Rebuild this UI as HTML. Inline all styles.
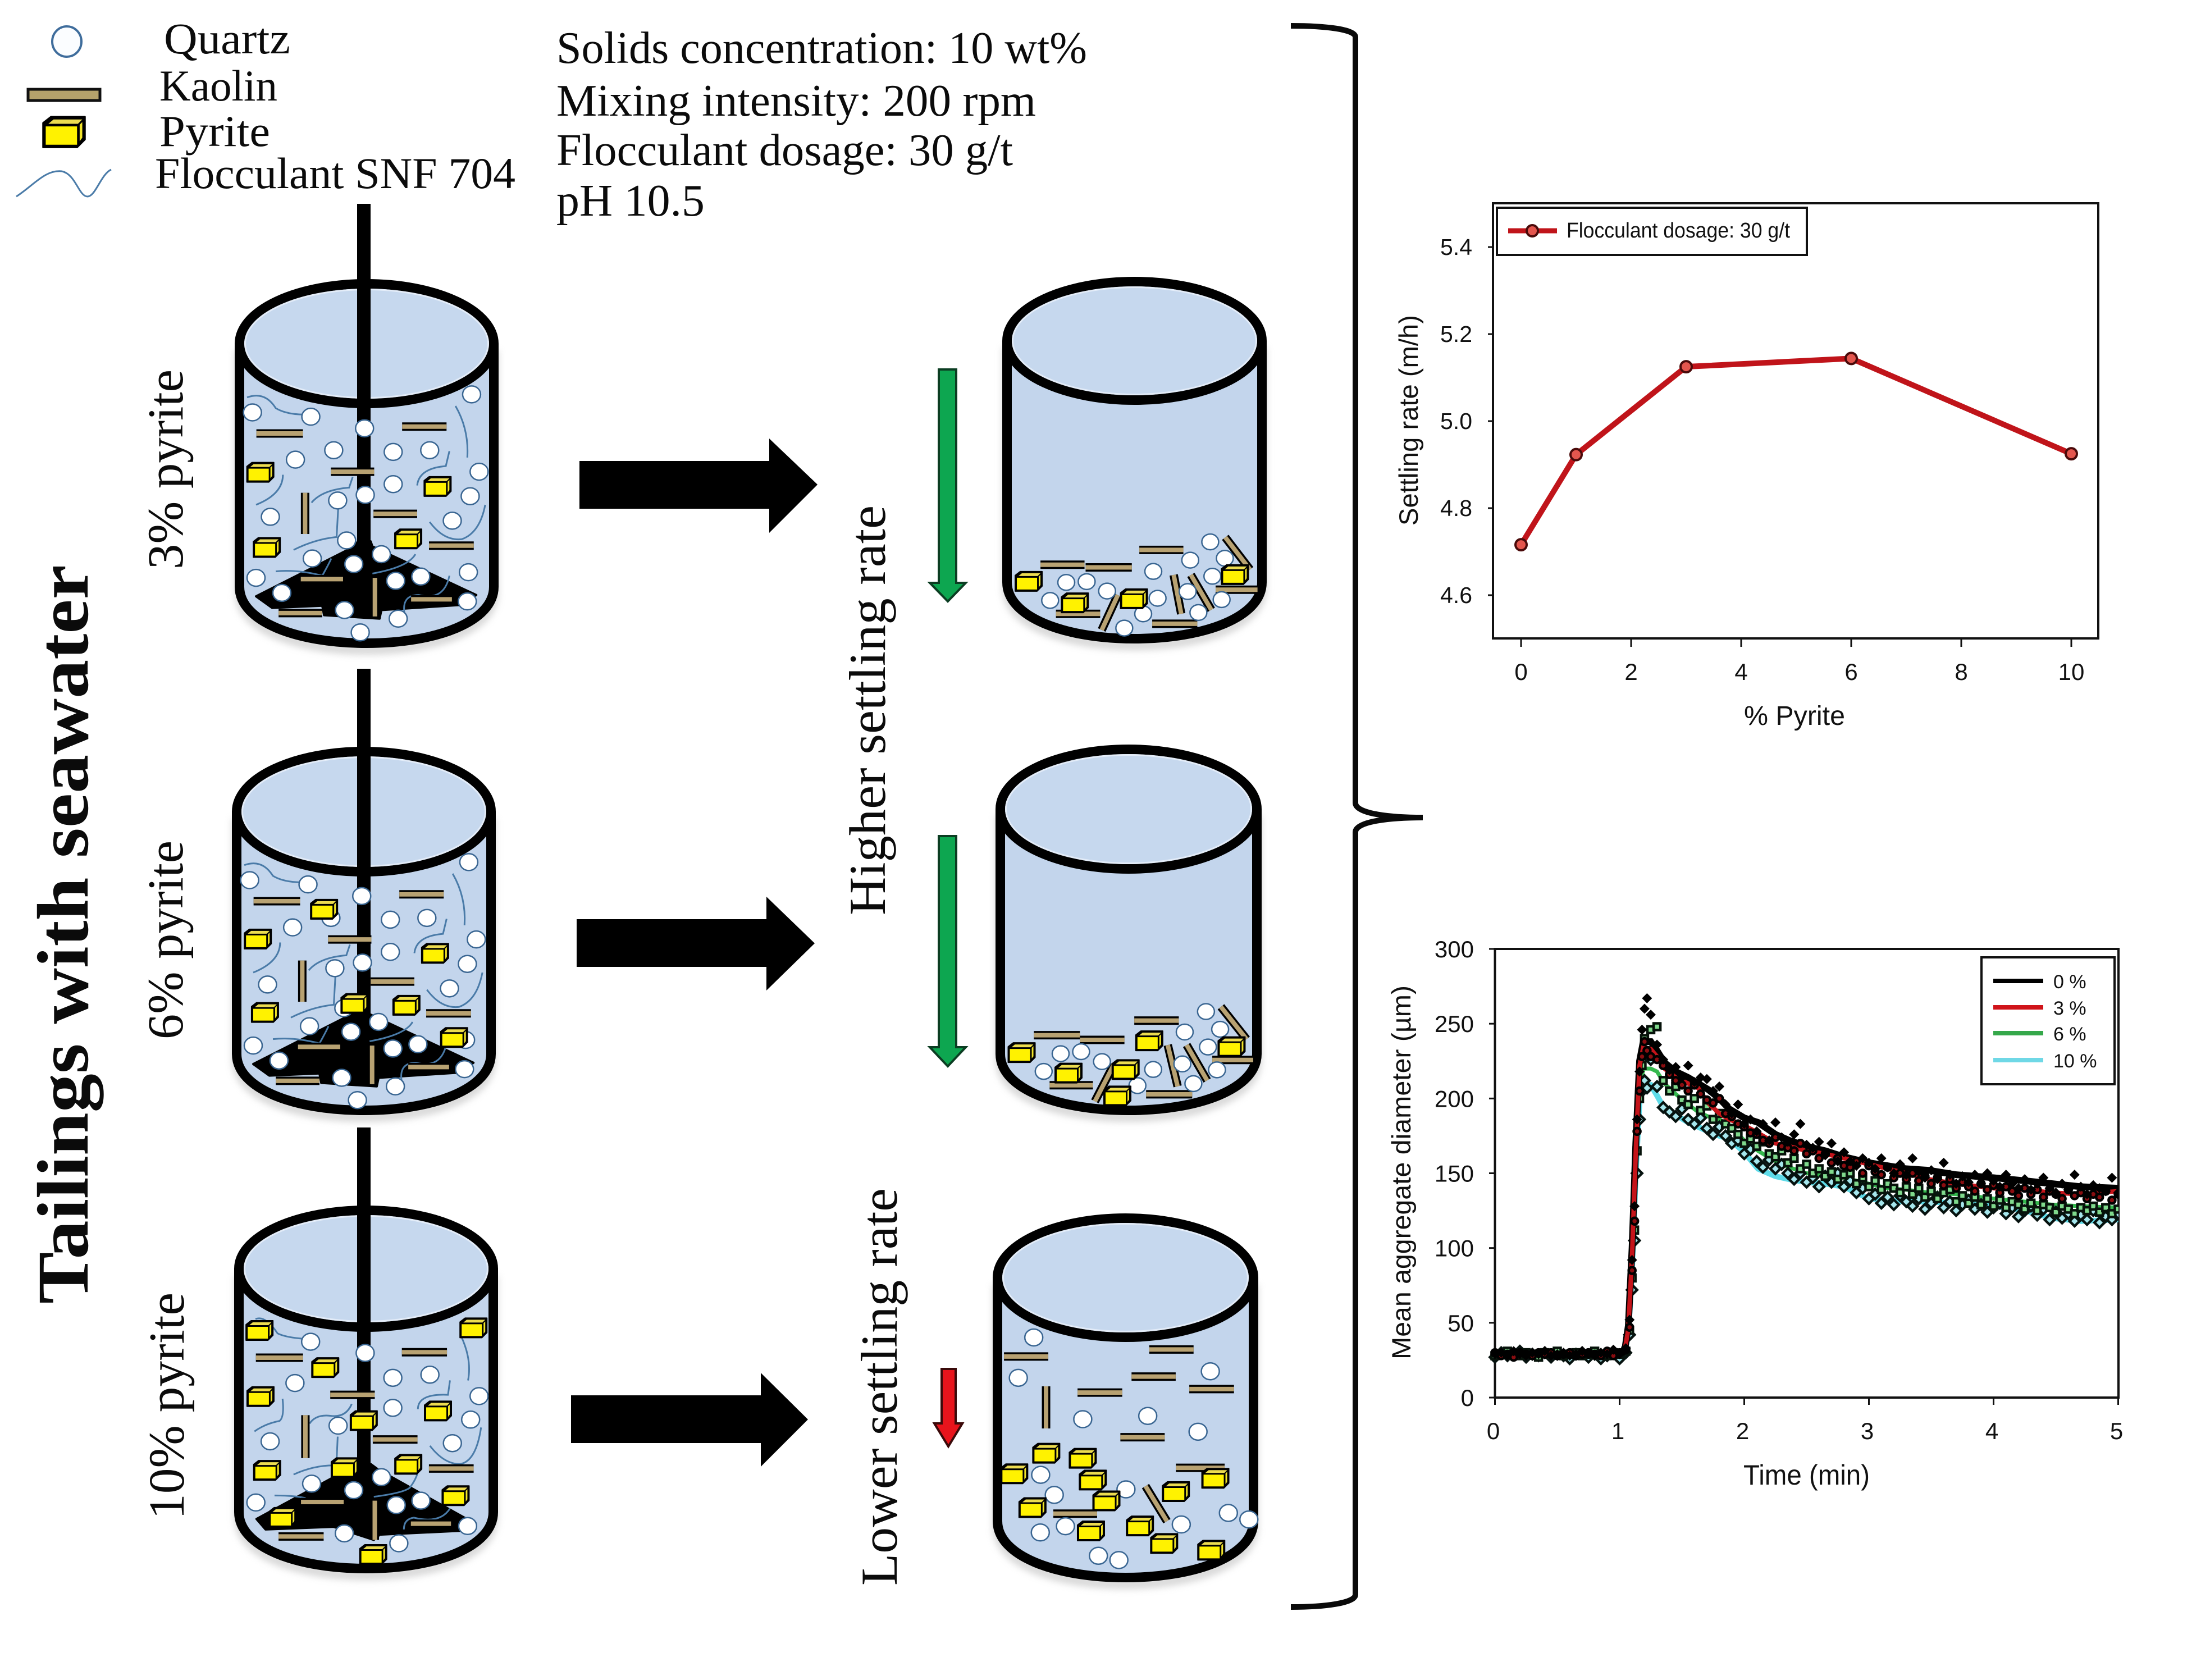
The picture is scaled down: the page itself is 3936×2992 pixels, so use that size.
<!DOCTYPE html>
<html lang="en">
<head>
<meta charset="utf-8">
<title>Tailings with seawater: pyrite settling schematic</title>
<style>
html,body{margin:0;padding:0;background:#fff;}
svg{display:block;}
.serif{font-family:"Liberation Serif",serif;fill:#0b0b0b;}
.sans{font-family:"Liberation Sans",sans-serif;fill:#111;}
</style>
</head>
<body>
<svg id="root" xmlns="http://www.w3.org/2000/svg" width="3936" height="2992" viewBox="0 0 3936 2992">
<defs><filter id="soft" x="-10%" y="-10%" width="120%" height="120%"><feGaussianBlur stdDeviation="6"/></filter></defs>
<rect x="0" y="0" width="3936" height="2992" fill="#fff"/>

<g>
<ellipse cx="119" cy="74" rx="26" ry="27" fill="#fbfdff" stroke="#3f6d9c" stroke-width="4"/>
<rect x="50" y="159" width="128" height="20" fill="#b5a26b" stroke="#111" stroke-width="5"/>
<g id="legendPyrite"></g>
<path d="M29 350C60 330 80 302 110 305C135 310 140 350 156 350C170 350 180 310 198 302" fill="none" stroke="#4a7ba8" stroke-width="3"/>
<text class="serif" x="292" y="95" font-size="78" textLength="225" lengthAdjust="spacingAndGlyphs">Quartz</text>
<text class="serif" x="284" y="179" font-size="78" textLength="210" lengthAdjust="spacingAndGlyphs">Kaolin</text>
<text class="serif" x="284" y="260" font-size="78" textLength="197" lengthAdjust="spacingAndGlyphs">Pyrite</text>
<text class="serif" x="276" y="335" font-size="78" textLength="642" lengthAdjust="spacingAndGlyphs">Flocculant SNF 704</text>
</g>

<g>
<text class="serif" x="991" y="112" font-size="80" textLength="945" lengthAdjust="spacingAndGlyphs">Solids concentration: 10 wt%</text>
<text class="serif" x="991" y="206" font-size="80" textLength="854" lengthAdjust="spacingAndGlyphs">Mixing intensity: 200 rpm</text>
<text class="serif" x="991" y="294" font-size="80" textLength="813" lengthAdjust="spacingAndGlyphs">Flocculant dosage: 30 g/t</text>
<text class="serif" x="991" y="384" font-size="80" textLength="264" lengthAdjust="spacingAndGlyphs">pH 10.5</text>
</g>

<text class="serif" font-weight="bold" font-size="130" transform="translate(156,2322) rotate(-90)" textLength="1316" lengthAdjust="spacingAndGlyphs">Tailings with seawater</text>
<text class="serif" font-size="90" transform="translate(325,1014) rotate(-90)" textLength="356" lengthAdjust="spacingAndGlyphs">3% pyrite</text>
<text class="serif" font-size="90" transform="translate(325,1851) rotate(-90)" textLength="354" lengthAdjust="spacingAndGlyphs">6% pyrite</text>
<text class="serif" font-size="90" transform="translate(327,2706) rotate(-90)" textLength="404" lengthAdjust="spacingAndGlyphs">10% pyrite</text>
<text class="serif" font-size="92" transform="translate(1576,1630) rotate(-90)" textLength="730" lengthAdjust="spacingAndGlyphs">Higher settling rate</text>
<text class="serif" font-size="92" transform="translate(1597,2824) rotate(-90)" textLength="708" lengthAdjust="spacingAndGlyphs">Lower settling rate</text>

<g id="beakers"></g>

<polygon points="1032,821 1370,821 1370,781 1456,863 1370,949 1370,906 1032,906" fill="#000"/>
<polygon points="1027,1637 1365,1637 1365,1597 1451,1680 1365,1764 1365,1722 1027,1722" fill="#000"/>
<polygon points="1017,2485 1355,2485 1355,2445 1439,2528 1355,2612 1355,2570 1017,2570" fill="#000"/>

<polygon points="1672,658 1703,658 1703,1038 1720,1038 1688,1071 1656,1038 1672,1038" fill="#0da650" stroke="#0b3d22" stroke-width="4"/>
<polygon points="1672,1489 1703,1489 1703,1865 1720,1865 1688,1899 1656,1865 1672,1865" fill="#0da650" stroke="#0b3d22" stroke-width="4"/>
<polygon points="1677,2438 1702,2438 1702,2535 1714,2535 1689,2576 1664,2535 1677,2535" fill="#e8141c" stroke="#3a0a0a" stroke-width="4"/>

<path d="M2299 46C2360 46 2414 52 2414 66V1430C2414 1450 2480 1456 2534 1456C2480 1456 2414 1462 2414 1482V2840C2414 2855 2360 2862 2299 2862" fill="none" stroke="#0a0a0a" stroke-width="10"/>

<g id="chart1"></g>
<g id="chart2"></g>
</svg>

<script>
/* ---------- chart 1 data ---------- */
const pyritePercent = [0, 1, 3, 6, 10];
const settlingRate = [4.716, 4.923, 5.125, 5.144, 4.925];
const c1XTicks = [0, 2, 4, 6, 8, 10];
const c1YTicks = [4.6, 4.8, 5.0, 5.2, 5.4];
const c1YTickLabels = ['4.6', '4.8', '5.0', '5.2', '5.4'];

/* ---------- chart 2 data ---------- */
const c2XTicks = [0, 1, 2, 3, 4, 5];
const c2YTicks = [0, 50, 100, 150, 200, 250, 300];
const seriesNames = ['0 %', '3 %', '6 %', '10 %'];
const lineTime = [0,0.5,1,1.04,1.07,1.1,1.13,1.16,1.19,1.25,1.3,1.36,1.45,1.55,1.63,1.71,1.8,1.88,2,2.11,2.25,2.36,2.5,2.65,2.8,3,3.15,3.3,3.48,3.7,4,4.25,4.47,4.7,5];
const line0 = [29,29,29,31,48,100,170,225,238,238,232,224,218,214,210,206,200,193,187,184,176,172,168,165,161,157,155,153,152,149,147,145,143,141,140];
const line3 = [29,29,29,31,46,95,165,222,234,233,228,220,214,210,207,197,190,186,182,177,170,168,165,163,160,156,153,150,146,143,140,139,137,136,138];
const line6 = [29,29,29,30,44,88,155,205,220,220,218,210,203,196,191,188,186,182,172,165,158,154,150,148,147,143,140,139,137,136,133,131,129,128,127];
const line10 = [29,29,29,30,42,85,150,198,208,209,202,193,189,184,181,178,175,173,164,153,148,146,144,143,141,133,132,131,131,130,128,125,120,118,119];
const scatterTime = [
0,0.05,0.1,0.15,0.2,0.25,0.3,0.35,0.4,0.45,0.5,0.55,0.6,0.65,0.7,0.75,0.8,0.85,0.9,0.95,1,
1.05,1.08,1.1,1.12,1.14,1.16,1.18,1.2,1.22,1.25,1.3,
1.35,1.4,1.45,1.5,1.55,1.6,1.65,1.7,1.75,1.8,
1.85,1.9,1.95,2,2.05,2.1,2.15,2.2,2.25,2.3,
2.35,2.4,2.45,2.5,2.55,2.6,2.65,2.7,2.75,2.8,
2.85,2.9,2.95,3,3.05,3.1,3.15,3.2,3.25,3.3,
3.35,3.4,3.45,3.5,3.55,3.6,3.65,3.7,3.75,3.8,
3.85,3.9,3.95,4,4.05,4.1,4.15,4.2,4.25,4.3,
4.35,4.4,4.45,4.5,4.55,4.6,4.65,4.7,4.75,4.8,
4.85,4.9,4.95,5];
const points0 = [
29,30,28,31,29,28,30,29,31,28,29,30,28,29,31,29,28,30,29,32,29,
33,52,92,128,186,218,246,260,267,256,236,
226,219,221,214,222,211,214,213,205,208,
196,190,196,183,186,178,183,172,184,174,
171,176,183,169,167,171,162,170,158,164,
158,155,160,157,153,160,154,150,156,149,
160,151,147,152,146,157,149,143,148,144,
149,143,150,145,141,149,143,140,146,139,
143,147,140,137,143,139,149,141,136,142,
140,138,147,137];
const points3 = [
30,28,29,27,30,29,28,30,29,30,28,29,30,28,29,30,29,28,31,28,30,
32,47,85,118,178,205,228,238,232,228,226,
222,216,212,209,205,209,203,199,197,200,
190,188,183,181,177,176,172,170,174,168,
167,165,170,163,165,160,163,157,160,155,
154,158,150,155,151,149,154,147,150,146,
150,145,148,143,147,142,146,140,144,141,
138,143,139,142,137,141,138,135,140,136,
139,134,138,136,133,139,135,137,133,136,
134,138,132,136];
const points6 = [
28,29,31,29,28,30,29,27,30,29,31,28,29,30,28,29,31,29,28,30,29,
31,45,80,112,165,200,222,240,232,246,248,
212,205,208,199,196,200,192,195,186,190,
183,180,176,170,173,168,171,163,161,165,
157,160,153,156,150,153,148,151,146,149,
150,143,147,141,145,139,143,140,137,141,
136,140,134,138,133,137,139,131,135,130,
134,129,133,128,132,127,131,129,126,130,
125,129,127,124,128,126,123,127,125,128,
124,127,123,126];
const points10 = [
27,30,28,29,31,27,29,28,30,27,29,28,26,29,30,27,29,26,28,30,26,
30,42,72,105,150,186,205,212,207,226,208,
194,191,188,193,186,183,187,180,176,181,
175,170,172,163,166,158,154,159,153,156,
150,146,150,144,147,141,148,144,150,141,
145,137,140,133,136,130,134,129,135,131,
128,133,126,130,134,127,131,125,129,132,
126,129,124,127,130,123,127,121,125,128,
122,126,119,124,120,123,118,122,119,125,
117,121,119,123];

const NS = 'http://www.w3.org/2000/svg';
function mk(tag, attrs, parent) {
  const el = document.createElementNS(NS, tag);
  for (const k in attrs) el.setAttribute(k, attrs[k]);
  parent.appendChild(el);
  return el;
}

/* ---------- chart 1 ---------- */
const c1 = document.getElementById('chart1');
function x1(v) { return 2709 + v * 98; }
function y1(v) { return 750 - (v - 5) * 775; }
(function () {
  let el = mk('rect', {x:2659, y:362, width:1078, height:775, fill:'#fff', stroke:'#111', 'stroke-width':4}, c1);
  
  
  c1XTicks.forEach(function (t) {
    const tick = mk('line', {x1:x1(t), x2:x1(t), y1:1137, y2:1152, stroke:'#111', 'stroke-width':3}, c1);
    
    
    const lab = mk('text', {x:x1(t), y:1211, 'text-anchor':'middle', 'font-size':42, class:'sans'}, c1);
    lab.textContent = String(t);
    
    
  });
  c1YTicks.forEach(function (t, i) {
    const tick = mk('line', {x1:2650, x2:2659, y1:y1(t), y2:y1(t), stroke:'#111', 'stroke-width':3}, c1);
    
    
    const lab = mk('text', {x:2622, y:y1(t) + 14, 'text-anchor':'end', 'font-size':41, class:'sans'}, c1);
    lab.textContent = c1YTickLabels[i];
    
    
  });
  const pts = pyritePercent.map(function (p, i) { return x1(p) + ',' + y1(settlingRate[i]); }).join(' ');
  const line = mk('polyline', {points:pts, fill:'none', stroke:'#c0141a', 'stroke-width':10, 'stroke-linejoin':'round'}, c1);
  
  
  pyritePercent.forEach(function (p, i) {
    const m = mk('circle', {cx:x1(p), cy:y1(settlingRate[i]), r:10, fill:'#e4564e', stroke:'#4a0a0a', 'stroke-width':4}, c1);
    
    
  });
  const t = mk('text', {x:3106, y:1291, 'font-size':48, class:'sans', textLength:180, lengthAdjust:'spacingAndGlyphs'}, c1);
  t.textContent = '% Pyrite';
  
  
  const yt = mk('text', {transform:'translate(2525,936) rotate(-90)', 'font-size':47, class:'sans', textLength:375, lengthAdjust:'spacingAndGlyphs'}, c1);
  yt.textContent = 'Settling rate (m/h)';
  
  
  const lb = mk('rect', {x:2666, y:370, width:552, height:84, fill:'#fff', stroke:'#111', 'stroke-width':4}, c1);
  
  
  const ll = mk('line', {x1:2686, x2:2773, y1:411, y2:411, stroke:'#c0141a', 'stroke-width':9}, c1);
  
  
  const lm = mk('circle', {cx:2729, cy:411, r:10, fill:'#e4564e', stroke:'#4a0a0a', 'stroke-width':4}, c1);
  
  
  const lt = mk('text', {x:2790, y:423, 'font-size':38, class:'sans', textLength:398, lengthAdjust:'spacingAndGlyphs'}, c1);
  lt.textContent = 'Flocculant dosage: 30 g/t';
  
  
})();

/* ---------- chart 2 ---------- */
const c2 = document.getElementById('chart2');
function x2(t) { return 2662.5 + t * 222; }
function y2(v) { return 2489 - v * 799 / 300; }
(function () {
  const frame = mk('rect', {x:2662.5, y:1690, width:1110.5, height:799, fill:'#fff', stroke:'#111', 'stroke-width':4}, c2);
  
  
  c2XTicks.forEach(function (t) {
    const tick = mk('line', {x1:x2(t), x2:x2(t), y1:2489, y2:2502, stroke:'#111', 'stroke-width':3}, c2);
    
    
    const lab = mk('text', {x:x2(t) - 3, y:2563, 'text-anchor':'middle', 'font-size':42, class:'sans'}, c2);
    lab.textContent = String(t);
    
    
  });
  c2YTicks.forEach(function (t) {
    const tick = mk('line', {x1:2652, x2:2662, y1:y2(t), y2:y2(t), stroke:'#111', 'stroke-width':3}, c2);
    
    
    const lab = mk('text', {x:2625, y:y2(t) + 15, 'text-anchor':'end', 'font-size':42, class:'sans'}, c2);
    lab.textContent = String(t);
    
    
  });
  function linePts(vals) {
    return lineTime.map(function (t, i) { return x2(t) + ',' + y2(vals[i]); }).join(' ');
  }
  const clip = mk('clipPath', {id:'plot2clip'}, c2);
  mk('rect', {x:2650, y:1690, width:1123, height:799}, clip);
  const marks = mk('g', {'clip-path':'url(#plot2clip)'}, c2);
  
  
  const l10 = mk('polyline', {points:linePts(line10), fill:'none', stroke:'#5fdbe8', 'stroke-width':10}, marks);
  
  
  const l6 = mk('polyline', {points:linePts(line6), fill:'none', stroke:'#35b84e', 'stroke-width':7}, marks);
  
  
  function diamond(x, y, r) {
    return x + ',' + (y - r) + ' ' + (x + r) + ',' + y + ' ' + x + ',' + (y + r) + ' ' + (x - r) + ',' + y;
  }
  scatterTime.forEach(function (t, i) {
    const m = mk('polygon', {points:diamond(x2(t), y2(points10[i]), 9), fill:'#a5e6ec', stroke:'#06120f', 'stroke-width':4.5}, marks);
    
    
  });
  scatterTime.forEach(function (t, i) {
    const m = mk('rect', {x:x2(t) - 6, y:y2(points6[i]) - 6, width:12, height:12, fill:'#7fd98c', stroke:'#06120a', 'stroke-width':4.5}, marks);
    
    
  });
  const l0 = mk('polyline', {points:linePts(line0), fill:'none', stroke:'#000', 'stroke-width':12}, marks);
  
  
  const l3 = mk('polyline', {points:linePts(line3), fill:'none', stroke:'#c5141a', 'stroke-width':8}, marks);
  
  
  scatterTime.forEach(function (t, i) {
    const m = mk('circle', {cx:x2(t), cy:y2(points3[i]), r:6, fill:'#8a0d10', stroke:'#000', 'stroke-width':4.5}, marks);
    
    
  });
  scatterTime.forEach(function (t, i) {
    const m = mk('polygon', {points:diamond(x2(t), y2(points0[i]), 9), fill:'#000'}, marks);
    
    
  });
  const lb = mk('rect', {x:3529, y:1705, width:237, height:226, fill:'#fff', stroke:'#111', 'stroke-width':4}, c2);
  
  
  const legendCols = ['#000', '#d0141a', '#35a84a', '#6fd8e6'];
  const legendY = [1747, 1794, 1840, 1888];
  seriesNames.forEach(function (n, i) {
    const l = mk('line', {x1:3550, x2:3639, y1:legendY[i], y2:legendY[i], stroke:legendCols[i], 'stroke-width':8}, c2);
    
    
    const t = mk('text', {x:3657, y:legendY[i] + 13, 'font-size':34, class:'sans'}, c2);
    t.textContent = n;
    
    
  });
  const xt = mk('text', {x:3105, y:2644, 'font-size':50, class:'sans', textLength:225, lengthAdjust:'spacingAndGlyphs'}, c2);
  xt.textContent = 'Time (min)';
  
  
  const yt = mk('text', {transform:'translate(2512,2421) rotate(-90)', 'font-size':47, class:'sans', textLength:666, lengthAdjust:'spacingAndGlyphs'}, c2);
  yt.textContent = 'Mean aggregate diameter (\u00b5m)';
  
  
})();

/* ---------- schematic ---------- */
const root = document.getElementById('beakers');
function drawPyrite(parent, x, y, s) {
  const g = mk('g', {transform:'translate(' + x + ',' + y + ') scale(' + s + ')'}, parent);
  
  
  mk('polygon', {points:'-24,-11 -15,-18 24,-18 24,8 15,17 -24,17', fill:'#000', stroke:'#000', 'stroke-width':2, 'stroke-linejoin':'round'}, g);
  mk('polygon', {points:'-21,-7 15,-7 15,14 -21,14', fill:'#fff200'}, g);
  mk('polygon', {points:'-18,-10 -12,-15 21,-15 16,-10', fill:'#ecdc50'}, g);
  mk('polygon', {points:'18,-9 21,-12 21,6 18,10', fill:'#f2e52a'}, g);
}
function drawQuartz(parent, x, y, r) {
  const c = mk('ellipse', {cx:x, cy:y, rx:r, ry:r - 1, fill:'#fff', stroke:'#3a6692', 'stroke-width':2.5}, parent);
  
  
}
function drawKaolin(parent, x1v, y1v, x2v, y2v) {
  const g = mk('g', {}, parent);
  
  
  mk('line', {x1:x1v, y1:y1v, x2:x2v, y2:y2v, stroke:'#000', 'stroke-width':15}, g);
  mk('line', {x1:x1v, y1:y1v, x2:x2v, y2:y2v, stroke:'#b8a272', 'stroke-width':8}, g);
}
function drawVessel(parent, L, R, T, E, B) {
  const sw = 17, cx = (L + R) / 2, cy = (T + E) / 2;
  const rx = (R - L) / 2 - sw / 2, ry = (E - T) / 2 - sw / 2;
  const lx = L + sw / 2, rr = R - sw / 2, by = B - sw / 2 - 1;
  const d = 'M' + lx + ' ' + cy + 'V' + (B - 110) + 'C' + lx + ' ' + (B - 48) + ' ' + (cx - rx * 0.55) + ' ' + by + ' ' + cx + ' ' + by +
    'C' + (cx + rx * 0.55) + ' ' + by + ' ' + rr + ' ' + (B - 48) + ' ' + rr + ' ' + (B - 110) + 'V' + cy;
  const sh = mk('path', {d:d, transform:'translate(0,12)', fill:'none', stroke:'#bdbdbd', 'stroke-width':sw, filter:'url(#soft)', opacity:0.6}, parent);
  
  
  const body = mk('path', {d:d + 'Z', fill:'#c3d5ec', stroke:'none'}, parent);
  
  
  const wall = mk('path', {d:d, fill:'none', stroke:'#000', 'stroke-width':sw}, parent);
  
  
  const rim = mk('ellipse', {cx:cx, cy:cy, rx:rx, ry:ry, fill:'#c6d8ee', stroke:'#000', 'stroke-width':sw}, parent);
  
  
  const hl = mk('ellipse', {cx:cx, cy:cy, rx:rx - 10, ry:ry - 10, fill:'none', stroke:'#e3ecf8', 'stroke-width':3}, parent);
  
  
}
function drawScene(name, v, conv, spec) {
  const g = mk('g', {}, root);
  
  
  drawVessel(g, v[0], v[1], v[2], v[3], v[4]);
  const X = function (a) { return conv.ox + a / conv.sx; };
  const Y = function (a) { return conv.oy + a / conv.sy; };
  if (spec.rodTop !== undefined) {
    const rod = mk('rect', {x:spec.rodX, y:spec.rodTop, width:24, height:spec.rodBot - spec.rodTop, fill:'#000'}, g);
    
    
  }
  if (spec.pile) {
    const pts = spec.pile.map(function (p) { return X(p[0]) + ',' + Y(p[1]); }).join(' ');
    const pile = mk('polygon', {points:pts, fill:'#000', stroke:'#000', 'stroke-width':4, 'stroke-linejoin':'round'}, g);
    
    
  }
  (spec.curves || []).forEach(function (c) {
    const d = c.map(function (p) { return (p.length === 3 ? p[0] : '') + (p.length === 3 ? X(p[1]) + ' ' + Y(p[2]) : X(p[0]) + ' ' + Y(p[1])); }).join(' ');
    const path = mk('path', {d:d, fill:'none', stroke:'#4a7ba8', 'stroke-width':3}, g);
    
    
  });
  (spec.rods || []).forEach(function (r) {
    drawKaolin(g, X(r[0]), Y(r[1]), X(r[2]), Y(r[3]));
  });
  (spec.quartz || []).forEach(function (q) {
    drawQuartz(g, X(q[0]), Y(q[1]), spec.r || 16);
  });
  (spec.pyrite || []).forEach(function (p) {
    drawPyrite(g, X(p[0]), Y(p[1]), 1);
  });
  if (spec.pyriteAlt) {
    const cv = spec.pyriteAlt.conv;
    spec.pyriteAlt.list.forEach(function (p) {
      drawPyrite(g, cv.ox + p[0] / cv.sx, cv.oy + p[1] / cv.sy, 1);
    });
  }
}
const h = function (a, b, y) { return [a, y, b, y]; };
const v = function (x, a, b) { return [x, a, x, b]; };
const q3 = [[705,960],[868,970],[1018,997],[1317,918],[932,1048],[825,1070],[1098,1052],[1200,1048],[1338,1098],[1098,1127],[1313,1155],[1020,1152],[943,1165],[755,1203],[1263,1212],[968,1258],[872,1300],[1065,1290],[988,1313],[715,1345],[1308,1332],[1105,1352],[1175,1342],[787,1380],[1305,1400],[962,1420],[1112,1440],[1006,1472]];
const r3 = [h(716,846,1009),h(1123,1247,993),h(924,1045,1098),h(1043,1165,1196),h(1198,1323,1270),h(840,958,1348),h(778,900,1427),h(1148,1262,1395),v(852,1147,1243),v(1047,1345,1435)];
const pile3 = [[1000,1260],[990,1272],[715,1388],[760,1415],[900,1410],[905,1432],[1060,1440],[1065,1420],[1290,1408],[1330,1385],[1040,1272],[1035,1260]];
const curves3 = [
  [['M',690,925],['Q',740,910],[770,950],['Q',800,965],[850,965]],
  [['M',1272,945],['Q',1310,1000],[1305,1065]],
  [['M',1165,1130],['Q',1170,1090],[1245,1085],['L',1255,1050]],
  [['M',715,1175],['Q',790,1150],[790,1105]],
  [['M',870,1170],['Q',900,1140],[975,1135],['L',985,1110]],
  [['M',820,1280],['Q',880,1255],[940,1250],['L',945,1175]],
  [['M',1200,1215],['Q',1240,1260],[1290,1255],['Q',1340,1240],[1355,1175]],
  [['M',770,1330],['Q',830,1325],[900,1340],['Q',920,1310],[925,1300]],
  [['M',1040,1335],['Q',1140,1320],[1160,1290]],
  [['M',1130,1430],['Q',1120,1385],[1170,1385],['Q',1240,1400],[1255,1340]]
];
drawScene('mixing-beaker-3-pyrite', [418,888,497,727,1155], {ox:0,oy:0,sx:1.568,sy:1.307}, {
  rodX:636, rodTop:363, rodBot:975, pile:pile3, curves:curves3, quartz:q3, rods:r3,
  pyrite:[[727,1100],[1222,1133],[745,1275],[1140,1255]]
});
drawScene('mixing-beaker-6-pyrite', [413,883,1330,1561,1987], {ox:-5,oy:833,sx:1.568,sy:1.307}, {
  rodX:636, rodTop:1191, rodBot:1805, pile:pile3, curves:curves3, quartz:q3, rods:r3,
  pyriteAlt:{conv:{ox:0,oy:1000,sx:1.568,sy:1.568}, list:[[905,972],[720,1055],[1215,1095],[740,1260],[990,1235],[1135,1240],[1268,1330]]}
});
drawScene('mixing-beaker-10-pyrite', [417,887,2147,2372,2803], {ox:380,oy:2100,sx:2.8,sy:2.148}, {
  rodX:636, rodTop:2008, rodBot:2630,
  pile:[[716,1085],[600,1140],[215,1300],[260,1340],[600,1330],[700,1355],[800,1380],[830,1360],[1240,1345],[1310,1320],[820,1110],[785,1090]],
  curves:[
    [['M',210,535],['Q',260,520],[320,590],['Q',360,605],[440,610]],
    [['M',1235,600],['Q',1290,690],[1270,770]],
    [['M',1020,880],['Q',1020,820],[1170,825],['L',1180,770]],
    [['M',205,965],['Q',260,935],[330,925],['Q',355,910],[345,840]],
    [['M',480,935],['Q',510,900],[580,905],['Q',660,915],[690,860]],
    [['M',400,1130],['Q',500,1095],[600,1095]],
    [['M',620,985],['L',615,1070]],
    [['M',1080,1020],['Q',1150,1090],[1230,1090],['Q',1310,1080],[1335,950]],
    [['M',305,1210],['Q',400,1210],[460,1220]],
    [['M',800,1215],['Q',950,1200],[980,1180],['Q',1010,1150],[1020,1120]],
    [['M',950,1340],['Q',950,1300],[1000,1295],['Q',1130,1320],[1180,1260]]
  ],
  quartz:[[485,622],[757,665],[895,760],[1080,748],[407,780],[895,875],[1325,830],[1283,920],[622,943],[283,1003],[1192,1010],[838,1140],[490,1165],[700,1190],[212,1237],[912,1247],[1035,1230],[1268,1327],[653,1355],[925,1393]],
  rods:[h(212,447,683),h(940,1165,662),h(583,805,825),h(795,1018,996),h(1075,1298,1107),h(437,650,1235),h(325,550,1367),h(985,1185,1318),v(459,903,1067),v(805,1230,1380)],
  pyrite:[[230,580],[1297,570],[558,722],[235,833],[1120,888],[750,925],[268,1115],[655,1105],[972,1092],[1208,1212],[345,1295],[797,1437]]
});
drawScene('settled-beaker-3-pyrite', [1785,2256,493,721,1147], {ox:1700,oy:450,sx:2.613,sy:2.091}, {
  r:15,
  quartz:[[1190,1077],[1097,1145],[1258,1138],[925,1187],[520,1228],[615,1225],[1200,1205],[710,1260],[445,1295],[1085,1262],[945,1287],[1243,1292],[878,1345],[1135,1340],[790,1398]],
  rods:[h(400,605,1162),h(610,825,1172),h(860,1065,1107),h(472,678,1345),h(920,1130,1382),h(1215,1410,1255),[1260,1060,1375,1180],[1020,1200,1055,1345],[1100,1200,1195,1330],[760,1275,685,1405]],
  pyrite:[[345,1225],[560,1305],[835,1290],[1305,1200]]
});
drawScene('settled-beaker-6-pyrite', [1773,2247,1326,1556,1987], {ox:1480,oy:1100,sx:1.4255,sy:1.4255}, {
  r:15,
  quartz:[[952,1000],[898,1052],[988,1045],[583,1107],[635,1102],[957,1090],[688,1127],[540,1152],[892,1133],[818,1147],[980,1148],[778,1188],[920,1183]],
  rods:[h(515,632,1060),h(632,745,1072),h(770,883,1023),h(555,665,1187),h(800,917,1210),h(968,1072,1123),[990,988,1055,1070],[855,1085,880,1190],[903,1085,955,1175],[718,1135,670,1228]],
  pyrite:[[484,1105],[808,1075],[603,1157],[748,1148],[1017,1090],[727,1215]]
});
drawScene('settled-beaker-10-pyrite', [1768,2241,2161,2390,2819], {ox:1740,oy:2140,sx:3.015,sy:2.24}, {
  quartz:[[305,542],[222,703],[1253,677],[568,868],[917,855],[1187,918],[342,1090],[415,1170],[800,1148],[475,1295],[340,1320],[1097,1288],[1350,1242],[1460,1268],[652,1413],[762,1430]],
  rods:[h(145,383,618),h(925,1163,590),h(830,1067,698),h(540,780,762),h(1140,1380,748),h(770,1008,940),h(410,645,1245),h(1068,1330,1062),v(371,737,905),[905,1135,1020,1275]],
  pyrite:[[200,1087],[372,1005],[568,1025],[622,1112],[695,1195],[298,1222],[612,1315],[1068,1158],[1280,1105],[875,1295],[1005,1365],[1258,1392]]
});
drawPyrite(document.getElementById('legendPyrite'), 114, 236, 1.55);
</script>
</body>
</html>
